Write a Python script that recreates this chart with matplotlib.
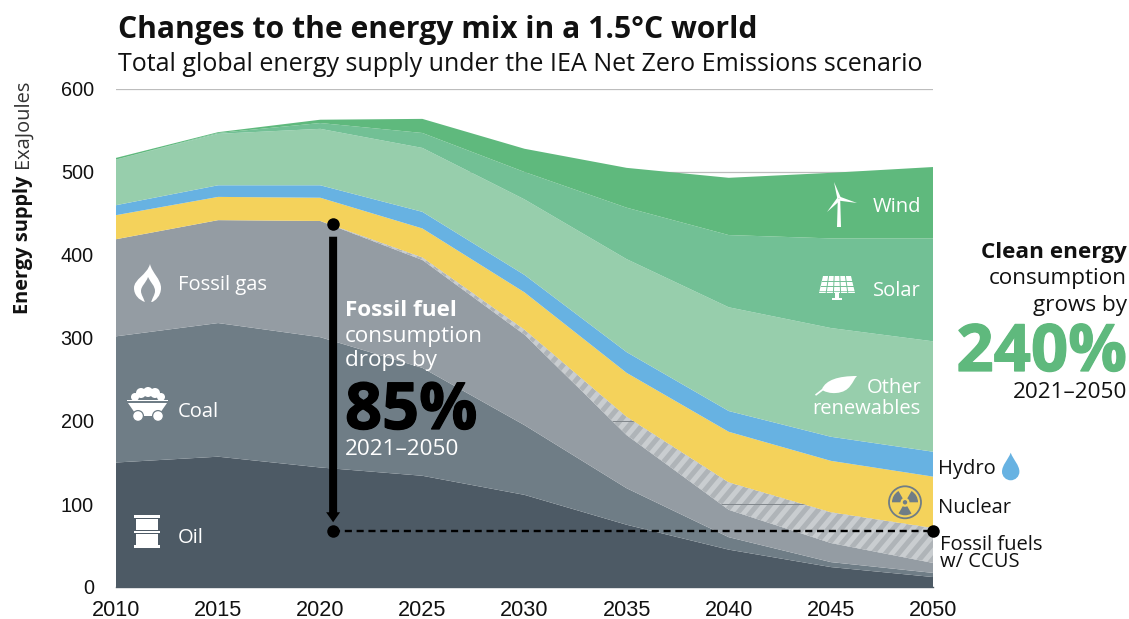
import matplotlib
matplotlib.use("Agg")
import matplotlib.pyplot as plt
import matplotlib.patheffects as pe
from matplotlib.path import Path
from matplotlib.patches import PathPatch, Polygon, Circle, Rectangle, Wedge

# values, EJ per layer
years = [2010, 2015, 2020, 2025, 2030, 2035, 2040, 2045, 2050]
oil = [150, 157, 144, 134, 111, 75, 45, 24, 12]
coal = [152, 161, 157, 130, 84, 44, 15, 6, 5]
gas = [117, 124, 140, 130, 109, 64, 33, 23, 12]
ccus = [0, 0, 0, 3, 6, 22, 33, 37, 42]
nuclear = [29, 28, 28, 35, 45, 53, 61, 62, 62]
hydro = [12, 14, 15, 20, 21, 25, 25, 29, 30]
other_renewables = [55, 62, 68, 77, 91, 112, 125, 131, 133]
solar = [0, 1, 7, 18, 33, 62, 87, 108, 124]
wind = [2, 1, 4, 17, 28, 48, 69, 79, 86]

y_ticks = [0, 100, 200, 300, 400, 500, 600]
x_ticks = [2010, 2015, 2020, 2025, 2030, 2035, 2040, 2045, 2050]
marker_year = 2020.63
fossil_2021 = 437
fossil_2050 = 67
arrow_tail = 422
arrow_tip = 78

colors = ["#4D5A65", "#6F7D86", "#949CA3", "#AFB4B8", "#F4D25B",
          "#67B2E2", "#97CEAC", "#72C095", "#5FB97D"]
stripe_color = "#C9CDD0"
ink = "#111111"

plt.rcParams["font.family"] = ["Open Sans", "DejaVu Sans"]

fig = plt.figure(figsize=(11.29, 6.19), dpi=100)
ax = fig.add_axes([116 / 1129, 1 - 587 / 619, (933 - 116) / 1129, (587 - 89) / 619])

# gridlines only show where the stack doesn't cover them
for t in [500, 600]:
    ax.axhline(t, color="#BDBDBD", lw=0.9, zorder=0)

layers = ax.stackplot(years, oil, coal, gas, ccus, nuclear, hydro,
                      other_renewables, solar, wind, colors=colors,
                      linewidth=0, zorder=1)
ax.set_xlim(2010, 2050)
ax.set_ylim(0, 600)
ax.set_xticks(x_ticks)
ax.set_yticks(y_ticks)
ax.tick_params(length=0, labelcolor=ink)
ax.tick_params(axis="y", pad=16, labelsize=14.3)
ax.tick_params(axis="x", pad=9.5, labelsize=15.6)
for lab in ax.get_xticklabels() + ax.get_yticklabels():
    lab.set_fontfamily("Liberation Sans")
for s in ["top", "left", "right"]:
    ax.spines[s].set_visible(False)
ax.spines["bottom"].set_color("#4D5A65")
ax.spines["bottom"].set_linewidth(1)

# overlay in picture pixels for texts and icons
ov = fig.add_axes([0, 0, 1, 1])
ov.set_xlim(0, 1129)
ov.set_ylim(619, 0)
ov.axis("off")
ov.patch.set_alpha(0)

# stripes in the CCUS band
ccus_path = layers[3].get_paths()[0]
for x0 in range(-200, 1300, 13):
    ln, = ax.plot([x0, x0 + 420], [600, 100], color=stripe_color, lw=3.6,
                  transform=ov.transData, zorder=1.5, solid_capstyle="butt")
    ln.set_clip_path(ccus_path, ax.transData)
for t in [100, 200]:
    ln = ax.axhline(t, color="#80868B", lw=0.7, zorder=1.6)
    ln.set_clip_path(ccus_path, ax.transData)

# fossil fuel drop marker
ax.annotate("", xy=(marker_year, arrow_tip), xytext=(marker_year, arrow_tail),
            arrowprops=dict(arrowstyle="simple,tail_width=0.8,head_width=1.4,head_length=1",
                            mutation_scale=7.2, color="black", lw=0,
                            shrinkA=0, shrinkB=0), zorder=4)
ax.plot([marker_year, 2050], [fossil_2050, fossil_2050], color="black", lw=1.7,
        dashes=(3, 2), dash_capstyle="butt", zorder=3)
ax.plot([marker_year, marker_year, 2050], [fossil_2021, fossil_2050, fossil_2050],
        ls="none", marker="o", ms=9, color="black", mew=0, zorder=5, clip_on=False)


def label(x, y, s, size=14.5, color="white", weight="normal", ha="left", **kw):
    return ov.text(x, y, s, fontsize=size, color=color, fontweight=weight, ha=ha,
                   va="baseline", **kw)


# titles
label(118, 38, "Changes to the energy mix in a 1.5°C world", size=21.7, color=ink, weight="bold")
label(118, 71, "Total global energy supply under the IEA Net Zero Emissions scenario", size=18.0, color=ink)

# y axis title
ov.text(28, 314, "Energy supply", fontsize=14.4, fontweight="bold", color=ink, rotation=90,
        ha="left", va="baseline", rotation_mode="anchor")
ov.text(28, 168, "ExaJoules", fontsize=14.4, color="#333333", rotation=90,
        ha="left", va="baseline", rotation_mode="anchor")

# layer names
label(178, 290, "Fossil gas")
label(178, 417, "Coal")
label(178, 543, "Oil")
label(921, 212, "Wind", ha="right")
label(921, 296, "Solar", ha="right")
label(921, 393, "Other", ha="right")
label(921, 414, "renewables", ha="right")
label(938, 474, "Hydro", color=ink)
label(938, 513, "Nuclear", color=ink)
label(940, 550, "Fossil fuels", color=ink)
label(940, 567, "w/ CCUS", color=ink)

# fossil callout
label(345, 316, "Fossil fuel", size=16.2, weight="bold")
label(345, 342, "consumption", size=16.2)
label(345, 366, "drops by", size=16.2)
big = label(345, 429, "85%", size=46.7, color="black", weight="bold")
big.set_path_effects([pe.withStroke(linewidth=0.9, foreground="black")])
label(345, 455, "2021–2050", size=16.2)

# clean energy callout
label(1127, 258, "Clean energy", size=16.2, color=ink, weight="bold", ha="right")
label(1127, 284, "consumption", size=16.2, color=ink, ha="right")
label(1127, 311, "grows by", size=16.2, color=ink, ha="right")
big = label(1127, 371, "240%", size=47, color="#5FB97D", weight="bold", ha="right")
big.set_path_effects([pe.withStroke(linewidth=0.9, foreground="#5FB97D")])
label(1127, 398, "2021–2050", size=16.2, color=ink, ha="right")


def curve(start, *segs):
    # segs are bezier triples, or one point for a straight piece
    verts, codes = [start], [Path.MOVETO]
    for seg in segs:
        if len(seg) == 3:
            verts += list(seg)
            codes += [Path.CURVE4] * 3
        else:
            verts.append(seg[0])
            codes.append(Path.LINETO)
    return Path(verts, codes)


def shape(path, color="white"):
    ov.add_patch(PathPatch(path, fc=color, ec="none"))


# flame
shape(curve((150, 264), ((152, 273), (161, 279), (161, 288)), ((161, 296), (155, 301), (152, 302)),
            ((145, 302),), ((139, 300), (134, 295), (134, 288)), ((134, 279), (147, 275), (150, 264))))
shape(curve((148, 277), ((151, 283), (155, 286), (155, 291)), ((155, 295), (152, 298), (151, 303)),
            ((145, 303),), ((144, 298), (141, 295), (141, 291)), ((141, 286), (146, 283), (148, 277))),
      color=colors[2])

# coal cart
for cx, cy, r in [(135, 397, 4), (141, 393, 5), (148, 392, 5), (155, 393, 5), (161, 397, 4)]:
    ov.add_patch(Circle((cx, cy), r, fc="white", ec="none"))
ov.add_patch(Rectangle((127, 399.5), 41, 1.8, fc="white", ec="none"))
ov.add_patch(Polygon([(128, 403), (167, 403), (158, 416), (137, 416)], fc="white", ec="none"))
for cx in [138, 158]:
    ov.add_patch(Circle((cx, 416), 5.4, fc="white", ec=colors[1], lw=0.9))

# barrel
for top, h, x0, w in [(515, 2.6, 134, 25.5), (518.8, 10.8, 136, 22), (530.6, 2.6, 134, 25.5),
                      (534.4, 10.8, 136, 22), (545.4, 2.6, 134, 25.5)]:
    ov.add_patch(Rectangle((x0, top), w, h, fc="white", ec="none"))

# wind turbine
ov.add_patch(Polygon([(837.8, 199), (840.2, 199), (841, 227), (837, 227)], fc="white", ec="none"))
for tip, a, b in [((834, 182), (837.4, 199), (840.8, 197.6)),
                  ((857, 203), (839.6, 196.6), (838.8, 200.6)),
                  ((827, 212), (837.6, 197.4), (840, 200.6))]:
    ov.add_patch(Polygon([tip, a, b], fc="white", ec="none"))

# solar panel
ov.add_patch(Polygon([(823, 276), (851, 276), (855, 293), (819, 293)], fc="white", ec="none"))
for k in range(1, 5):
    ov.plot([823 + 5.6 * k, 819 + 7.2 * k], [276, 293], color=colors[7], lw=0.7)
for yy, xl, xr in [(281, 822, 852), (286, 820.7, 853.3)]:
    ov.plot([xl, xr], [yy, yy], color=colors[7], lw=0.7)
ov.plot([819, 855], [290.5, 290.5], color=colors[7], lw=0.5)
ov.add_patch(Rectangle((835, 293), 4, 6, fc="white", ec="none"))
ov.add_patch(Rectangle((832, 298), 10, 2, fc="white", ec="none"))

# leaf
shape(curve((815, 394.5), ((822, 389),), ((826, 380), (838, 376), (857, 376)),
            ((852, 381), (851, 392), (836, 393)), ((830, 393.5), (826, 392), (823, 390.5)),
            ((816, 395.8),), ((815, 394.5),)))

# water drop
shape(curve((1010.7, 452.7), ((1008, 460), (1002, 465), (1002, 471.7)),
            ((1002, 476.5), (1006, 480.3), (1010.7, 480.3)),
            ((1015.4, 480.3), (1019.4, 476.5), (1019.4, 471.7)),
            ((1019.4, 465), (1013.4, 460), (1010.7, 452.7))), color="#67B2E2")

# radiation sign
rad = (905, 502.3)
ov.add_patch(Circle(rad, 16, fc="none", ec=colors[1], lw=1.3))
for th in [60, 180, 300]:
    ov.add_patch(Wedge(rad, 13, th, th + 60, width=8.5, fc=colors[1], ec="none"))
ov.add_patch(Circle(rad, 2.2, fc=colors[1], ec="none"))

fig.savefig("out.png", dpi=100)
